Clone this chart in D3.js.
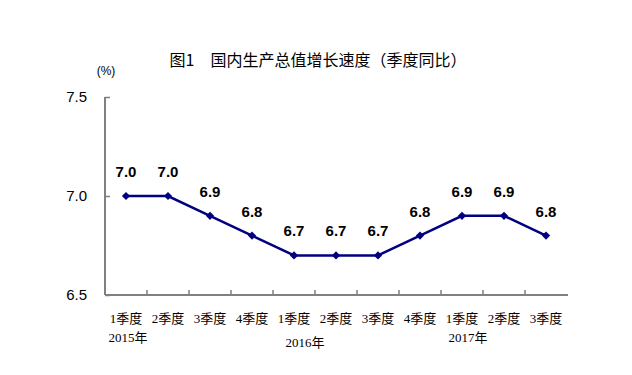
<!DOCTYPE html>
<html>
<head>
<meta charset="utf-8">
<script src="https://cdn.jsdelivr.net/npm/d3@7"></script>
<style>
    body { margin: 0; background: #fff; }
    svg { display: block; }
</style>
</head>
<body>
<svg width="632" height="375"></svg>
<script>
const QUARTERS = ['1季度', '2季度', '3季度', '4季度', '1季度', '2季度', '3季度', '4季度', '1季度', '2季度', '3季度'];
const GROWTH = [7.0, 7.0, 6.9, 6.8, 6.7, 6.7, 6.7, 6.8, 6.9, 6.9, 6.8];
const YEARS = ['2015年', '2016年', '2017年'];
const YEAR_AT = [0, 4, 8]; // first quarter of each year
const Y_TICKS = [6.5, 7.0, 7.5];

// small nudges so the year labels sit where the original puts them
const YEAR_SHIFT = [2, 11, 6];
const YEAR_Y = [342, 347, 342];

const svg = d3.select('svg');
const AXIS_COLOR = '#808080';
const LINE_COLOR = '#000080';
const serif = '"Liberation Serif", "Noto Sans CJK SC", serif';
const sans = 'Arial, "Liberation Sans", "Noto Sans CJK SC", sans-serif';

const x = d3.scaleBand()
    .domain(d3.range(QUARTERS.length))
    .range([105, 567]);
const y = d3.scaleLinear()
    .domain([6.5, 7.5])
    .range([295, 97]);

svg.append('text')
    .text('图1　国内生产总值增长速度（季度同比）')
    .attr('x', 318)
    .attr('y', 66)
    .attr('text-anchor', 'middle')
    .style('font-family', '"Noto Sans CJK SC", sans-serif')
    .style('font-size', '16px');

svg.append('text')
    .text('(%)')
    .attr('x', 106)
    .attr('y', 75)
    .attr('text-anchor', 'middle')
    .style('font-family', sans)
    .style('font-size', '12px');

// y axis
const yAxis = svg.append('g')
    .attr('transform', 'translate(105,0)')
    .call(d3.axisRight(y).tickValues(Y_TICKS).tickSize(5).tickFormat(''));
yAxis.select('.domain').remove();
yAxis.selectAll('line').attr('stroke', AXIS_COLOR).attr('stroke-width', 1.5);
svg.append('line')
    .attr('x1', 105).attr('x2', 105)
    .attr('y1', y(7.5)).attr('y2', y(6.5))
    .attr('stroke', AXIS_COLOR).attr('stroke-width', 2);

svg.append('g')
    .selectAll('text')
    .data(Y_TICKS)
    .enter()
    .append('text')
    .text(d => d.toFixed(1))
    .attr('x', 87)
    .attr('y', d => y(d))
    .attr('dy', '0.35em')
    .attr('text-anchor', 'end')
    .style('font-family', sans)
    .style('font-size', '15px');

// x axis
svg.append('line')
    .attr('x1', 105).attr('x2', 568)
    .attr('y1', y(6.5)).attr('y2', y(6.5))
    .attr('stroke', AXIS_COLOR).attr('stroke-width', 2);

svg.append('g')
    .selectAll('line')
    .data(d3.range(1, QUARTERS.length))
    .enter()
    .append('line')
    .attr('x1', d => x(d)).attr('x2', d => x(d))
    .attr('y1', y(6.5)).attr('y2', y(6.5) - 5)
    .attr('stroke', AXIS_COLOR).attr('stroke-width', 1.5);

svg.append('g')
    .selectAll('text')
    .data(QUARTERS)
    .enter()
    .append('text')
    .text(d => d)
    .attr('x', (d, i) => x(i) + x.bandwidth() / 2)
    .attr('y', 323)
    .attr('text-anchor', 'middle')
    .style('font-family', serif)
    .style('font-size', '13px');

svg.append('g')
    .selectAll('text')
    .data(YEARS)
    .enter()
    .append('text')
    .text(d => d)
    .attr('x', (d, i) => x(YEAR_AT[i]) + x.bandwidth() / 2 + YEAR_SHIFT[i])
    .attr('y', (d, i) => YEAR_Y[i])
    .attr('text-anchor', 'middle')
    .style('font-family', serif)
    .style('font-size', '13px');

// line + markers
const cx = (d, i) => x(i) + x.bandwidth() / 2;
const line = d3.line()
    .x(cx)
    .y(d => y(d));

svg.append('path')
    .datum(GROWTH)
    .attr('d', line)
    .attr('fill', 'none')
    .attr('stroke', LINE_COLOR)
    .attr('stroke-width', 2.5);

svg.append('g')
    .selectAll('path')
    .data(GROWTH)
    .enter()
    .append('path')
    .attr('d', d3.symbol(d3.symbolSquare, 34))
    .attr('transform', (d, i) => `translate(${cx(d, i)},${y(d)}) rotate(45)`)
    .attr('fill', LINE_COLOR);

svg.append('g')
    .selectAll('text')
    .data(GROWTH)
    .enter()
    .append('text')
    .text(d => d.toFixed(1))
    .attr('x', cx)
    .attr('y', d => y(d) - 19)
    .attr('text-anchor', 'middle')
    .style('font-family', sans)
    .style('font-weight', 'bold')
    .style('font-size', '15px');
</script>
</body>
</html>
